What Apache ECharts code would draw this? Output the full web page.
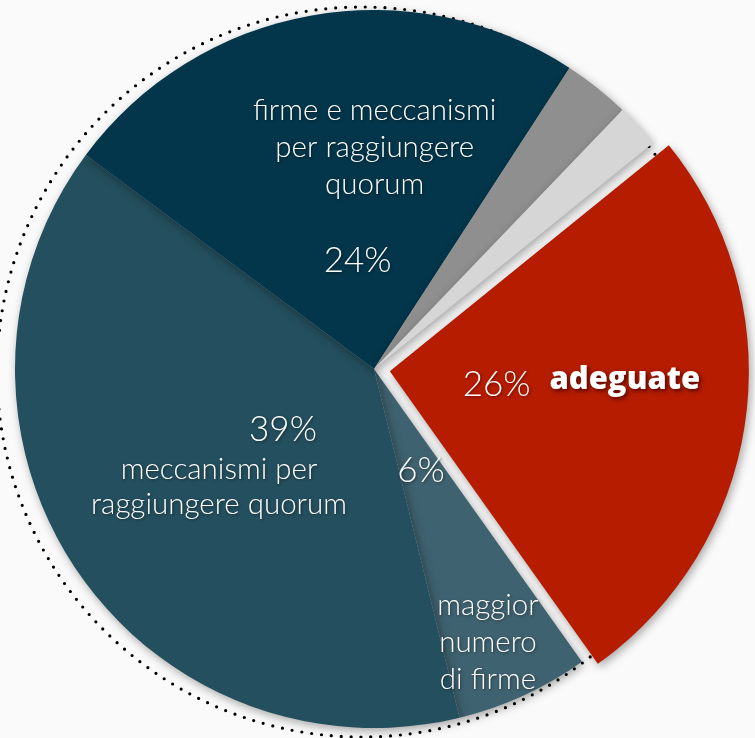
<!DOCTYPE html>
<html>
<head>
<meta charset="utf-8">
<script src="https://cdn.jsdelivr.net/npm/echarts@6/dist/echarts.min.js"></script>
<style>
  html, body { margin: 0; padding: 0; background: #fafafa; }
  #main { width: 755px; height: 738px; }
</style>
</head>
<body>
<div id="main"></div>
<script>
var myChart = echarts.init(document.getElementById('main'));

// dati (fette in senso orario, partendo da "adeguate")
var names = ['adeguate', 'maggior numero di firme', 'meccanismi per raggiungere quorum',
             'firme e meccanismi per raggiungere quorum', 'altro', 'non so'];
var values = [26, 6, 39, 24, 3, 2];
var descriptions = ['adeguate', 'maggior\nnumero\ndi firme', 'meccanismi per\nraggiungere quorum',
                    'firme e meccanismi\nper raggiungere\nquorum', '', ''];
var colors = ['#b51c00', '#3f6270', '#244f5e', '#03364a', '#8f8f8f', '#d6d6d6'];

var cx = 374, cy = 369, R = 359;
var startAngle = 39; // gradi, antiorario dalle ore 3

// offset delle etichette (percentuali e descrizioni)
var pctOffsets = [[-74, -11], [-29, -64], [61, -40], [16, 71], [0, 0], [0, 0]];
var descOffsets = [[70, -14], [38, 108], [-3, 17], [33, -42], [0, 0], [0, 0]];

var font = 'Lato, "Open Sans", sans-serif';
var shadowText = {
    textShadowColor: 'rgba(0,0,0,0.45)',
    textShadowBlur: 3,
    textShadowOffsetX: 1,
    textShadowOffsetY: 1
};

var total = values.reduce(function (a, b) { return a + b; }, 0);

var mainData = values.map(function (v, i) {
    var lbl = Object.assign({
        show: i < 4,
        formatter: Math.round(v / total * 100) + '%',
        color: '#fff',
        fontFamily: font,
        fontWeight: 300,
        fontSize: 35,
        offset: pctOffsets[i]
    }, shadowText);
    return {
        name: names[i],
        value: v,
        selected: i === 0,
        itemStyle: { color: colors[i] },
        label: lbl,
        select: { label: lbl, itemStyle: { color: colors[i] } }
    };
});

var descData = values.map(function (v, i) {
    var bold = i === 0;
    return {
        name: names[i],
        value: v,
        itemStyle: { color: 'rgba(0,0,0,0)' },
        label: Object.assign({
            show: descriptions[i] !== '',
            formatter: descriptions[i],
            color: '#fff',
            fontFamily: bold ? '"Open Sans", sans-serif' : font,
            fontWeight: bold ? 800 : 300,
            fontSize: bold ? 31 : 29.5,
            lineHeight: i === 2 ? 35 : 37,
            align: 'center',
            offset: descOffsets[i]
        }, bold ? {
            textShadowColor: 'rgba(60,0,0,0.8)',
            textShadowBlur: 4,
            textShadowOffsetX: 2,
            textShadowOffsetY: 2
        } : shadowText)
    };
});

option = {
    backgroundColor: '#fafafa',
    animation: false,
    // cerchio punteggiato dietro la torta
    graphic: [{
        type: 'circle',
        z: -1,
        shape: { cx: 362, cy: 372, r: 365 },
        style: { stroke: '#000', fill: null, lineWidth: 3.2, lineDash: [0, 9.9], lineCap: 'round' }
    }],
    series: [{
        type: 'pie',
        center: [cx, cy],
        radius: [0, R],
        startAngle: startAngle,
        clockwise: true,
        selectedMode: 'single',
        selectedOffset: 16,
        avoidLabelOverlap: false,
        silent: true,
        label: { position: 'inside' },
        labelLine: { show: false },
        itemStyle: {
            shadowBlur: 10,
            shadowColor: 'rgba(0,0,0,0.35)',
            shadowOffsetX: 2,
            shadowOffsetY: 3
        },
        emphasis: { disabled: true },
        data: mainData
    }, {
        type: 'pie',
        center: [cx, cy],
        radius: [0, R],
        startAngle: startAngle,
        clockwise: true,
        avoidLabelOverlap: false,
        silent: true,
        label: { position: 'inside' },
        labelLine: { show: false },
        emphasis: { disabled: true },
        data: descData
    }]
};
myChart.setOption(option);
</script>
</body>
</html>
